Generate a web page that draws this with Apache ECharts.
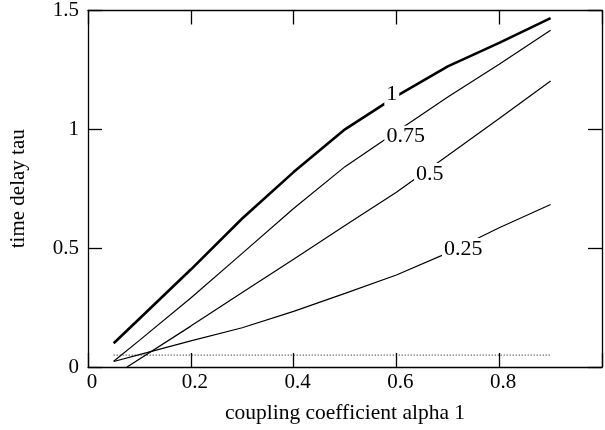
<!DOCTYPE html>
<html>
<head>
<meta charset="utf-8">
<script src="https://cdn.jsdelivr.net/npm/echarts@6/dist/echarts.min.js"></script>
<style>html,body{margin:0;padding:0;background:#fff}#c{width:605px;height:430px}</style>
</head>
<body>
<div id="c"></div>
<script>
// data
const alphaA = [0.05, 0.1, 0.2, 0.3, 0.4, 0.5, 0.6, 0.7, 0.8, 0.9];
const tau100 = [0.1, 0.203, 0.41, 0.625, 0.82, 1.0, 1.14, 1.265, 1.364, 1.468];
const tau075 = [0.024, 0.112, 0.29, 0.478, 0.667, 0.843, 0.99, 1.136, 1.274, 1.417];
const alphaB = [0.076, 0.2, 0.3, 0.4, 0.5, 0.6, 0.7, 0.8, 0.9];
const tau050 = [0, 0.172, 0.313, 0.453, 0.595, 0.735, 0.89, 1.046, 1.203];
const tau025 = [0.023, 0.052, 0.11, 0.165, 0.234, 0.31, 0.387, 0.48, 0.586, 0.684];
const refAlpha = [0.05, 0.9];
const refTau = [0.05, 0.05];
const labelText = ['1', '0.75', '0.5', '0.25'];
const labelAlpha = [0.591, 0.618, 0.665, 0.730];
const labelTau = [1.147, 0.969, 0.812, 0.496];
const xTicks = [0, 0.2, 0.4, 0.6, 0.8, 1];
const yTicks = [0, 0.5, 1, 1.5];

const FONT = '"Liberation Serif", "Times New Roman", serif';
const pairs = (xs, ys) => xs.map((x, i) => [x, ys[i]]);

function mark(i) {
  return {
    symbol: 'rect', symbolSize: 0, silent: true,
    label: {
      show: true, position: 'inside', formatter: labelText[i],
      fontFamily: FONT, fontSize: 22, color: '#000',
      backgroundColor: '#fff', padding: [0, 2]
    },
    data: [{ coord: [labelAlpha[i], labelTau[i]] }]
  };
}

function line(data, width, i) {
  const s = {
    type: 'line', data: data, showSymbol: false, symbol: 'none',
    lineStyle: { color: '#000', width: width }, animation: false, z: 3
  };
  if (i !== undefined) s.markPoint = mark(i);
  return s;
}

const axisCommonX = {
  type: 'value', min: xTicks[0], max: xTicks[xTicks.length - 1], interval: 0.2,
  splitLine: { show: false },
  axisLine: { show: true, onZero: false, lineStyle: { color: '#000', width: 1.3 } },
  axisTick: { show: true, inside: true, length: 14, lineStyle: { color: '#000', width: 1.3 } }
};
const axisCommonY = {
  type: 'value', min: yTicks[0], max: yTicks[yTicks.length - 1], interval: 0.5,
  splitLine: { show: false },
  axisLine: { show: true, onZero: false, lineStyle: { color: '#000', width: 1.3 } },
  axisTick: { show: true, inside: true, length: 14, lineStyle: { color: '#000', width: 1.3 } }
};

const chart = echarts.init(document.getElementById('c'), null, { renderer: 'canvas' });
chart.setOption({
  animation: false,
  backgroundColor: '#fff',
  grid: { left: 87, right: 0, top: 6, bottom: 63, containLabel: false },
  xAxis: [
    Object.assign({}, axisCommonX, {
      position: 'bottom',
      name: 'coupling coefficient alpha 1', nameLocation: 'middle', nameGap: 35,
      nameTextStyle: { fontFamily: FONT, fontSize: 21.5, color: '#000' },
      axisLabel: {
        fontFamily: FONT, fontSize: 21, color: '#000', margin: 5, padding: [0, 0, 0, 8],
        formatter: v => (v >= 0.999 ? '' : String(+v.toFixed(1)))
      }
    }),
    Object.assign({}, axisCommonX, { position: 'top', axisLabel: { show: false } })
  ],
  yAxis: [
    Object.assign({}, axisCommonY, {
      position: 'left',
      name: 'time delay tau', nameLocation: 'middle', nameGap: 59,
      nameTextStyle: { fontFamily: FONT, fontSize: 21, color: '#000' },
      axisLabel: {
        fontFamily: FONT, fontSize: 21, color: '#000', margin: 9,
        formatter: v => String(+v.toFixed(1))
      }
    }),
    Object.assign({}, axisCommonY, { position: 'right', axisLabel: { show: false } })
  ],
  series: [
    line(pairs(alphaA, tau100), 2.6, 0),
    line(pairs(alphaA, tau075), 1.2, 1),
    line(pairs(alphaB, tau050), 1.2, 2),
    line(pairs(alphaA, tau025), 1.2, 3),
    {
      type: 'line', data: pairs(refAlpha, refTau), showSymbol: false, symbol: 'none',
      lineStyle: { color: '#000', width: 1, type: [1, 2] }, z: 2
    }
  ]
});
</script>
</body>
</html>
